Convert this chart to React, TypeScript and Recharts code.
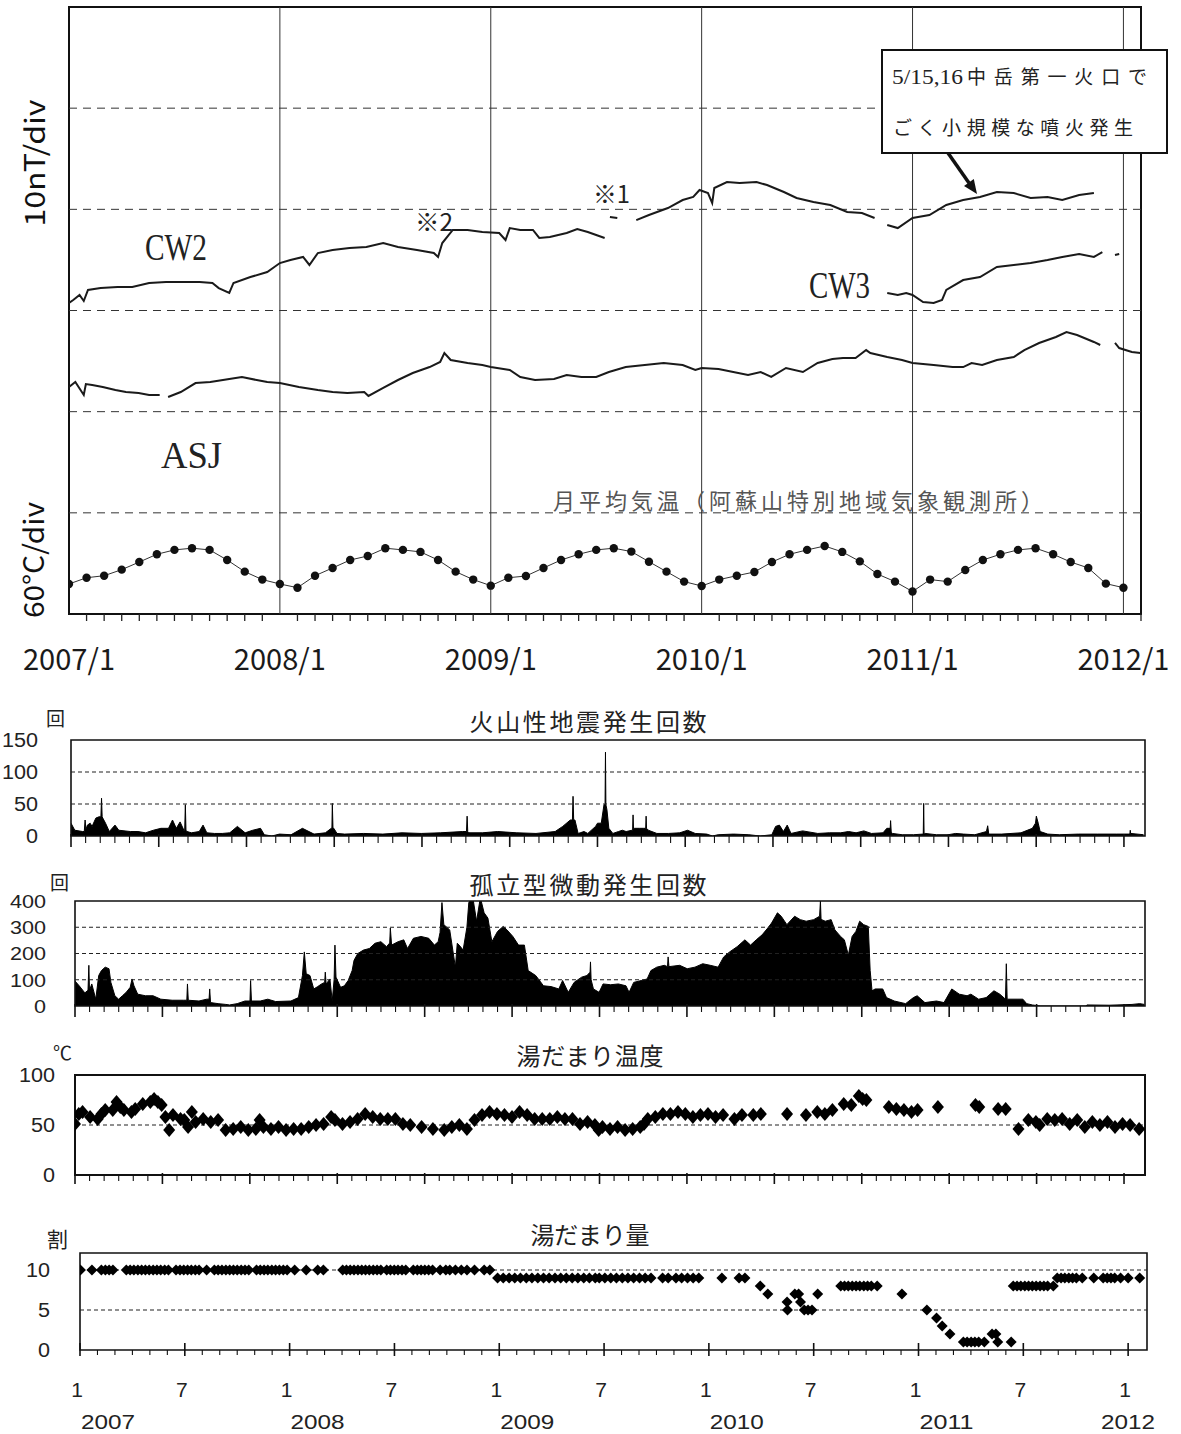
import React from 'react';
import { ComposedChart, Line, Area, Scatter, XAxis, YAxis, ReferenceLine, ReferenceArea } from 'recharts';

const FJ = '"Noto Sans CJK JP", "Noto Sans", "DejaVu Sans", sans-serif';
const FN = '"Liberation Sans", "DejaVu Sans", sans-serif';
const FS = '"Liberation Serif", "DejaVu Serif", serif';

// ---------------- top panel data ----------------
const TOP_YEAR_LABELS = ['2007/1', '2008/1', '2009/1', '2010/1', '2011/1', '2012/1'];
const YEAR_LINES = [2008, 2009, 2010, 2011, 2012];
const MAG_GRID = [10, 20, 30, 40, 50];

// [decimal year, nT (arbitrary offset)]; null = data gap
const CW2_RAW: [number, number | null][] = [
  [2007.0, 30.74], [2007.02, 31.04], [2007.05, 31.53], [2007.07, 30.94], [2007.09, 32.03], [2007.15, 32.22],
  [2007.23, 32.32], [2007.3, 32.32], [2007.38, 32.72], [2007.46, 32.82], [2007.54, 32.82], [2007.62, 32.82],
  [2007.68, 32.72], [2007.71, 32.22], [2007.76, 31.73], [2007.78, 32.72], [2007.86, 33.31], [2007.94, 33.8],
  [2008.0, 34.69], [2008.05, 34.99], [2008.11, 35.29], [2008.14, 34.5], [2008.18, 35.68], [2008.25, 35.98],
  [2008.33, 36.18], [2008.41, 36.28], [2008.49, 36.67], [2008.56, 36.28], [2008.65, 35.98], [2008.73, 35.68],
  [2008.75, 35.29], [2008.77, 36.67], [2008.8, 37.46], [2008.82, 37.96], [2008.89, 37.96], [2008.96, 37.76],
  [2009.04, 37.66], [2009.07, 36.97], [2009.09, 38.15], [2009.14, 37.96], [2009.2, 37.96], [2009.23, 37.17],
  [2009.28, 37.26], [2009.36, 37.66], [2009.41, 38.06], [2009.46, 37.76], [2009.5, 37.46], [2009.54, 37.17],
  [2009.55, null], [2009.565, 39.24], [2009.6, 39.14], [2009.61, null],
  [2009.69, 38.94], [2009.75, 39.44], [2009.84, 40.13], [2009.91, 40.92], [2009.96, 41.22], [2009.99, 41.91],
  [2010.03, 41.61], [2010.05, 40.62], [2010.06, 42.11], [2010.12, 42.7], [2010.18, 42.6], [2010.26, 42.7],
  [2010.31, 42.4], [2010.39, 41.71], [2010.45, 41.12], [2010.53, 40.72], [2010.61, 40.43], [2010.69, 39.74],
  [2010.76, 39.64], [2010.82, 39.14], [2010.85, null],
  [2010.88, 38.45], [2010.93, 38.15], [2011.0, 39.14], [2011.08, 39.44], [2011.16, 40.43], [2011.24, 40.92],
  [2011.32, 41.22], [2011.4, 41.71], [2011.48, 41.61], [2011.56, 41.12], [2011.64, 41.22], [2011.71, 40.92],
  [2011.79, 41.42], [2011.86, 41.61],
];

const CW3_RAW: [number, number | null][] = [
  [2010.88, 31.73], [2010.93, 31.53], [2010.97, 31.73], [2011.0, 31.53], [2011.05, 30.84], [2011.1, 30.74],
  [2011.14, 31.04], [2011.16, 32.03], [2011.24, 33.01], [2011.32, 33.31], [2011.4, 34.3], [2011.48, 34.5],
  [2011.56, 34.69], [2011.64, 34.99], [2011.71, 35.29], [2011.79, 35.58], [2011.86, 35.29], [2011.9, 35.78],
  [2011.93, null], [2011.96, 35.48], [2011.98, 35.58],
];

const ASJ_RAW: [number, number | null][] = [
  [2007.0, 22.44], [2007.03, 22.93], [2007.07, 21.65], [2007.08, 22.73], [2007.11, 22.63], [2007.16, 22.44],
  [2007.22, 22.14], [2007.27, 21.94], [2007.33, 21.84], [2007.38, 21.65], [2007.43, 21.65], [2007.45, null],
  [2007.47, 21.45], [2007.53, 21.94], [2007.6, 22.83], [2007.67, 22.93], [2007.76, 23.23], [2007.82, 23.43],
  [2007.89, 23.13], [2007.94, 22.93], [2008.0, 22.83], [2008.09, 22.44], [2008.18, 22.14], [2008.25, 21.94],
  [2008.32, 21.84], [2008.4, 21.94], [2008.42, 21.55], [2008.49, 22.34], [2008.56, 23.13], [2008.63, 23.82],
  [2008.71, 24.41], [2008.76, 24.91], [2008.78, 25.8], [2008.81, 25.11], [2008.89, 24.81], [2008.96, 24.61],
  [2009.0, 24.41], [2009.09, 24.12], [2009.14, 23.43], [2009.21, 23.13], [2009.3, 23.23], [2009.36, 23.62],
  [2009.43, 23.43], [2009.5, 23.43], [2009.56, 23.92], [2009.64, 24.41], [2009.73, 24.61], [2009.82, 24.81],
  [2009.91, 24.61], [2009.97, 24.12], [2010.0, 24.32], [2010.08, 24.22], [2010.15, 23.92], [2010.22, 23.62],
  [2010.28, 23.92], [2010.33, 23.43], [2010.4, 24.32], [2010.48, 23.92], [2010.55, 24.81], [2010.62, 25.2],
  [2010.67, 25.3], [2010.73, 25.3], [2010.78, 26.09], [2010.8, 25.8], [2010.88, 25.4], [2010.95, 25.11],
  [2011.0, 24.81], [2011.1, 24.61], [2011.19, 24.41], [2011.24, 24.41], [2011.28, 24.81], [2011.33, 24.61],
  [2011.4, 25.11], [2011.48, 25.4], [2011.53, 26.09], [2011.6, 26.79], [2011.68, 27.38], [2011.73, 27.87],
  [2011.78, 27.58], [2011.86, 26.89], [2011.89, 26.59], [2011.92, null], [2011.96, 26.79], [2011.98, 26.29],
  [2012.04, 25.9], [2012.08, 25.8],
];

// monthly mean air temperature (deg C), 2007/1 .. 2012/1
const AIR_TEMP = [
  -0.6, 3.1, 4.3, 7.9, 12.4, 17.0, 19.6, 20.6, 19.6, 13.6, 6.7, 2.0,
  -0.6, -2.8, 4.3, 8.9, 13.6, 16.0, 20.6, 19.6, 18.4, 13.6, 6.7, 2.0,
  -1.6, 3.1, 4.1, 8.9, 13.6, 17.0, 19.6, 20.6, 18.6, 12.6, 6.7, 0.8,
  -1.8, 2.0, 4.3, 6.5, 12.4, 17.0, 19.6, 21.9, 18.4, 12.8, 5.3, 0.8,
  -5.1, 2.0, 0.8, 7.7, 13.6, 17.0, 19.6, 20.6, 17.0, 12.4, 8.9, -0.4,
  -2.8,
];

// ---------------- volcanic earthquakes (count/day) ----------------
const EQ_RAW: [number, number][] = [
  [2007.0, 20], [2007.018, 9], [2007.055, 7], [2007.063, 7], [2007.067, 25], [2007.071, 10], [2007.078, 17],
  [2007.091, 20], [2007.1, 15], [2007.118, 28], [2007.133, 30], [2007.142, 30], [2007.145, 59], [2007.148, 30],
  [2007.151, 28], [2007.164, 20], [2007.182, 7], [2007.209, 17], [2007.227, 9], [2007.282, 7], [2007.318, 7],
  [2007.354, 5], [2007.391, 9], [2007.427, 12], [2007.463, 12], [2007.482, 25], [2007.5, 12], [2007.518, 22],
  [2007.536, 9], [2007.54, 9], [2007.543, 49], [2007.546, 9], [2007.551, 7], [2007.572, 5], [2007.609, 7],
  [2007.627, 17], [2007.645, 5], [2007.681, 4], [2007.718, 4], [2007.754, 5], [2007.79, 15], [2007.827, 5],
  [2007.863, 9], [2007.9, 12], [2007.918, 2], [2007.954, 0], [2007.99, 3], [2008.045, 2], [2008.099, 12],
  [2008.154, 3], [2008.208, 5], [2008.236, 12], [2008.239, 12], [2008.241, 51], [2008.244, 12], [2008.248, 12],
  [2008.263, 4], [2008.299, 3], [2008.39, 4], [2008.481, 3], [2008.572, 5], [2008.663, 4], [2008.754, 5],
  [2008.86, 7], [2008.878, 7], [2008.881, 31], [2008.884, 7], [2008.89, 5], [2008.953, 5], [2009.026, 7],
  [2009.117, 5], [2009.208, 4], [2009.299, 7], [2009.335, 15], [2009.371, 25], [2009.381, 25], [2009.384, 62],
  [2009.387, 25], [2009.393, 25], [2009.408, 4], [2009.418, 5], [2009.436, 7], [2009.454, 4], [2009.491, 15],
  [2009.5, 20], [2009.518, 20], [2009.531, 49], [2009.536, 49], [2009.538, 131], [2009.54, 49], [2009.545, 41],
  [2009.554, 12], [2009.573, 4], [2009.6, 7], [2009.618, 9], [2009.636, 7], [2009.664, 9], [2009.667, 9],
  [2009.669, 33], [2009.671, 12], [2009.676, 12], [2009.7, 12], [2009.718, 12], [2009.729, 12], [2009.731, 31],
  [2009.733, 12], [2009.742, 9], [2009.782, 4], [2009.837, 4], [2009.891, 5], [2009.928, 9], [2009.964, 4],
  [2010.019, 3], [2010.046, 0], [2010.073, 2], [2010.146, 3], [2010.219, 2], [2010.273, 0], [2010.328, 2],
  [2010.346, 15], [2010.364, 17], [2010.383, 7], [2010.401, 17], [2010.419, 4], [2010.474, 8], [2010.546, 4],
  [2010.601, 5], [2010.655, 5], [2010.692, 7], [2010.728, 5], [2010.765, 8], [2010.801, 4], [2010.856, 5],
  [2010.874, 12], [2010.89, 12], [2010.892, 24], [2010.895, 6], [2010.901, 4], [2010.947, 2], [2011.001, 2],
  [2011.045, 3], [2011.047, 3], [2011.049, 51], [2011.051, 3], [2011.056, 4], [2011.11, 2], [2011.165, 2],
  [2011.201, 4], [2011.238, 3], [2011.292, 2], [2011.347, 7], [2011.353, 16], [2011.358, 3], [2011.42, 3],
  [2011.511, 5], [2011.565, 12], [2011.58, 20], [2011.584, 31], [2011.593, 20], [2011.602, 7], [2011.638, 3],
  [2011.693, 2], [2011.784, 3], [2011.875, 3], [2011.966, 3], [2012.028, 3], [2012.03, 9], [2012.032, 4],
  [2012.093, 2],
];

// ---------------- isolated tremors (count/day) ----------------
const TREMOR_RAW: [number, number][] = [
  [2007.0, 95], [2007.02, 77], [2007.047, 50], [2007.062, 60], [2007.066, 155], [2007.069, 60], [2007.08, 84],
  [2007.099, 26], [2007.113, 116], [2007.126, 135], [2007.144, 148], [2007.162, 142], [2007.171, 90], [2007.19, 39],
  [2007.208, 26], [2007.226, 39], [2007.244, 52], [2007.263, 71], [2007.272, 103], [2007.281, 77], [2007.299, 45],
  [2007.336, 39], [2007.372, 39], [2007.409, 26], [2007.463, 22], [2007.518, 22], [2007.533, 22], [2007.536, 84],
  [2007.54, 22], [2007.591, 19], [2007.628, 26], [2007.639, 26], [2007.642, 65], [2007.646, 13], [2007.682, 9],
  [2007.719, 6], [2007.737, 4], [2007.773, 9], [2007.81, 19], [2007.834, 19], [2007.837, 97], [2007.841, 19],
  [2007.883, 19], [2007.919, 26], [2007.956, 17], [2008.029, 19], [2008.065, 32], [2008.084, 116], [2008.093, 206],
  [2008.102, 123], [2008.12, 116], [2008.138, 65], [2008.157, 74], [2008.175, 84], [2008.19, 90], [2008.193, 129],
  [2008.197, 84], [2008.215, 103], [2008.226, 19], [2008.235, 100], [2008.239, 232], [2008.244, 110], [2008.266, 71],
  [2008.284, 77], [2008.302, 97], [2008.321, 135], [2008.33, 174], [2008.348, 200], [2008.375, 213], [2008.403, 219],
  [2008.43, 239], [2008.458, 245], [2008.485, 226], [2008.5, 240], [2008.503, 297], [2008.509, 232], [2008.54, 245],
  [2008.567, 252], [2008.585, 219], [2008.613, 258], [2008.649, 265], [2008.686, 258], [2008.713, 232], [2008.731, 245],
  [2008.74, 280], [2008.749, 394], [2008.758, 310], [2008.786, 290], [2008.813, 148], [2008.822, 239], [2008.831, 232],
  [2008.85, 213], [2008.868, 300], [2008.877, 394], [2008.895, 419], [2008.914, 323], [2008.932, 413], [2008.95, 355],
  [2008.968, 335], [2008.987, 245], [2009.014, 284], [2009.041, 303], [2009.059, 290], [2009.087, 265], [2009.114, 232],
  [2009.142, 232], [2009.16, 135], [2009.196, 116], [2009.233, 77], [2009.269, 74], [2009.306, 65], [2009.324, 97],
  [2009.351, 52], [2009.379, 90], [2009.415, 110], [2009.44, 116], [2009.455, 129], [2009.457, 168], [2009.46, 100],
  [2009.471, 65], [2009.498, 52], [2009.517, 84], [2009.553, 81], [2009.59, 84], [2009.626, 77], [2009.641, 52],
  [2009.663, 90], [2009.699, 97], [2009.727, 103], [2009.745, 135], [2009.773, 148], [2009.809, 155], [2009.824, 150],
  [2009.827, 187], [2009.831, 150], [2009.882, 155], [2009.918, 142], [2009.955, 148], [2009.992, 161], [2010.028, 155],
  [2010.065, 148], [2010.092, 187], [2010.12, 206], [2010.156, 226], [2010.193, 252], [2010.22, 232], [2010.247, 252],
  [2010.275, 271], [2010.302, 297], [2010.32, 316], [2010.348, 355], [2010.366, 342], [2010.393, 310], [2010.43, 342],
  [2010.457, 329], [2010.485, 323], [2010.521, 329], [2010.549, 342], [2010.553, 400], [2010.556, 330], [2010.576, 323],
  [2010.604, 329], [2010.622, 290], [2010.649, 265], [2010.667, 252], [2010.686, 194], [2010.704, 265], [2010.722, 284],
  [2010.74, 323], [2010.759, 310], [2010.781, 303], [2010.79, 135], [2010.799, 58], [2010.814, 65], [2010.85, 65],
  [2010.868, 32], [2010.905, 19], [2010.959, 9], [2010.996, 32], [2011.014, 39], [2011.051, 13], [2011.106, 19],
  [2011.142, 13], [2011.179, 65], [2011.215, 45], [2011.252, 39], [2011.27, 45], [2011.307, 26], [2011.343, 32],
  [2011.38, 58], [2011.408, 45], [2011.435, 26], [2011.439, 161], [2011.443, 26], [2011.49, 26], [2011.518, 26],
  [2011.536, 9], [2011.563, 4], [2011.6, 0], [2011.819, 0], [2011.823, 4], [2011.929, 3], [2012.038, 6],
  [2012.075, 9], [2012.097, 6],
];

// ---------------- crater lake temperature (deg C) ----------------
const LAKE_TEMP_RAW: [number, number][] = [
  [2007.0, 51], [2007.018, 61], [2007.036, 63], [2007.072, 58], [2007.108, 56], [2007.126, 61], [2007.144, 65],
  [2007.18, 65], [2007.198, 73], [2007.216, 68], [2007.233, 65], [2007.269, 63], [2007.287, 66], [2007.323, 71],
  [2007.359, 73], [2007.377, 76], [2007.395, 73], [2007.413, 70], [2007.431, 58], [2007.449, 45], [2007.467, 60],
  [2007.503, 56], [2007.521, 55], [2007.539, 48], [2007.557, 63], [2007.575, 53], [2007.611, 56], [2007.647, 53],
  [2007.682, 55], [2007.718, 45], [2007.754, 46], [2007.79, 48], [2007.826, 45], [2007.862, 46], [2007.88, 55],
  [2007.898, 48], [2007.934, 46], [2007.97, 48], [2008.006, 45], [2008.042, 46], [2008.078, 46], [2008.114, 48],
  [2008.149, 50], [2008.185, 51], [2008.221, 58], [2008.239, 55], [2008.275, 51], [2008.311, 53], [2008.347, 56],
  [2008.383, 61], [2008.419, 58], [2008.455, 56], [2008.491, 56], [2008.527, 56], [2008.563, 51], [2008.598, 50],
  [2008.652, 48], [2008.706, 46], [2008.76, 45], [2008.796, 48], [2008.832, 50], [2008.868, 46], [2008.904, 55],
  [2008.94, 60], [2008.976, 63], [2009.011, 61], [2009.047, 60], [2009.083, 58], [2009.119, 63], [2009.155, 60],
  [2009.191, 56], [2009.227, 56], [2009.263, 56], [2009.299, 58], [2009.335, 56], [2009.371, 56], [2009.407, 51],
  [2009.443, 53], [2009.478, 50], [2009.496, 45], [2009.514, 48], [2009.55, 46], [2009.586, 48], [2009.622, 45],
  [2009.658, 46], [2009.694, 48], [2009.712, 51], [2009.73, 56], [2009.766, 58], [2009.802, 61], [2009.838, 61],
  [2009.874, 63], [2009.909, 61], [2009.945, 58], [2009.981, 60], [2010.017, 61], [2010.053, 58], [2010.089, 60],
  [2010.143, 56], [2010.179, 60], [2010.233, 60], [2010.269, 61], [2010.394, 61], [2010.484, 60], [2010.538, 63],
  [2010.574, 61], [2010.61, 65], [2010.664, 71], [2010.7, 70], [2010.736, 79], [2010.754, 76], [2010.772, 75],
  [2010.879, 68], [2010.915, 66], [2010.951, 65], [2010.987, 63], [2011.016, 65], [2011.113, 68], [2011.292, 70],
  [2011.31, 68], [2011.4, 66], [2011.436, 66], [2011.497, 46], [2011.544, 55], [2011.58, 53], [2011.598, 50],
  [2011.634, 56], [2011.67, 55], [2011.705, 56], [2011.741, 51], [2011.777, 55], [2011.813, 48], [2011.849, 53],
  [2011.885, 50], [2011.921, 53], [2011.957, 48], [2011.993, 51], [2012.029, 50], [2012.072, 46],
];

// ---------------- crater lake water amount (tenths) ----------------
const WATER_RAW: [number, number][] = [
  [2007.002, 10], [2007.057, 10], [2007.102, 10], [2007.121, 10], [2007.139, 10], [2007.157, 10],
  [2007.221, 10], [2007.239, 10], [2007.257, 10], [2007.276, 10], [2007.294, 10], [2007.312, 10], [2007.33, 10],
  [2007.349, 10], [2007.367, 10], [2007.385, 10], [2007.404, 10], [2007.422, 10], [2007.458, 10], [2007.477, 10],
  [2007.495, 10], [2007.513, 10], [2007.531, 10], [2007.55, 10], [2007.568, 10], [2007.604, 10], [2007.641, 10],
  [2007.659, 10], [2007.677, 10], [2007.696, 10], [2007.714, 10], [2007.732, 10], [2007.75, 10], [2007.769, 10],
  [2007.787, 10], [2007.805, 10], [2007.842, 10], [2007.86, 10], [2007.878, 10], [2007.896, 10], [2007.915, 10],
  [2007.933, 10], [2007.951, 10], [2007.97, 10], [2007.988, 10], [2008.024, 10], [2008.079, 10], [2008.134, 10],
  [2008.161, 10], [2008.253, 10], [2008.271, 10], [2008.289, 10], [2008.307, 10], [2008.326, 10], [2008.344, 10],
  [2008.362, 10], [2008.38, 10], [2008.399, 10], [2008.417, 10], [2008.435, 10], [2008.463, 10], [2008.481, 10],
  [2008.499, 10], [2008.517, 10], [2008.536, 10], [2008.554, 10], [2008.59, 10], [2008.609, 10], [2008.627, 10],
  [2008.645, 10], [2008.663, 10], [2008.682, 10], [2008.718, 10], [2008.745, 10], [2008.764, 10], [2008.791, 10],
  [2008.819, 10], [2008.846, 10], [2008.882, 10], [2008.928, 10], [2008.955, 10],
  [2008.992, 9], [2009.019, 9], [2009.047, 9], [2009.074, 9], [2009.101, 9], [2009.129, 9], [2009.156, 9],
  [2009.184, 9], [2009.211, 9], [2009.238, 9], [2009.266, 9], [2009.293, 9], [2009.32, 9], [2009.348, 9],
  [2009.375, 9], [2009.403, 9], [2009.43, 9], [2009.458, 9], [2009.477, 9], [2009.504, 9], [2009.532, 9],
  [2009.559, 9], [2009.587, 9], [2009.614, 9], [2009.641, 9], [2009.669, 9], [2009.696, 9], [2009.724, 9],
  [2009.779, 9], [2009.806, 9], [2009.843, 9], [2009.87, 9], [2009.898, 9], [2009.925, 9], [2009.952, 9],
  [2010.062, 9], [2010.144, 9], [2010.172, 9], [2010.245, 8], [2010.281, 7], [2010.373, 6], [2010.375, 5],
  [2010.41, 7], [2010.428, 7], [2010.437, 6], [2010.455, 5], [2010.473, 5], [2010.492, 5], [2010.519, 7],
  [2010.629, 8], [2010.647, 8], [2010.665, 8], [2010.684, 8], [2010.702, 8], [2010.72, 8], [2010.739, 8],
  [2010.757, 8], [2010.775, 8], [2010.803, 8], [2010.921, 7], [2011.04, 5], [2011.086, 4], [2011.113, 3],
  [2011.15, 2], [2011.214, 1], [2011.232, 1], [2011.251, 1], [2011.269, 1], [2011.287, 1], [2011.314, 1],
  [2011.351, 2], [2011.369, 2], [2011.378, 1], [2011.442, 1], [2011.452, 8], [2011.47, 8], [2011.488, 8],
  [2011.507, 8], [2011.525, 8], [2011.543, 8], [2011.561, 8], [2011.58, 8], [2011.598, 8], [2011.616, 8],
  [2011.643, 8], [2011.662, 9], [2011.68, 9], [2011.698, 9], [2011.717, 9], [2011.735, 9], [2011.753, 9],
  [2011.781, 9], [2011.836, 9], [2011.881, 9], [2011.9, 9], [2011.918, 9], [2011.936, 9], [2011.964, 9],
  [2012.0, 9], [2012.055, 9],
];

const P2_YTICKS = [0, 50, 100, 150];
const P3_YTICKS = [0, 100, 200, 300, 400];
const P4_YTICKS = [0, 50, 100];
const P5_YTICKS = [0, 5, 10];
const P5_MONTH_LABELS = ['1', '7'];
const P5_YEAR_LABELS = ['2007', '2008', '2009', '2010', '2011', '2012'];

const toObj = (raw: [number, number | null][]) => raw.map(([t, v]) => ({ t, v }));
const cw2 = toObj(CW2_RAW);
const cw3 = toObj(CW3_RAW);
const asj = toObj(ASJ_RAW);
const airTemp = AIR_TEMP.map((v, i) => ({ t: 2007 + i / 12, v }));
const eq = toObj(EQ_RAW);
const tremor = toObj(TREMOR_RAW);
const lakeTemp = toObj(LAKE_TEMP_RAW);
const water = toObj(WATER_RAW);

// axis tick positions (styling only)
const MONTH_TICKS = Array.from({ length: 62 }, (_, k) => 2007 + k / 12);
const LOWER_TICKS = Array.from({ length: 73 }, (_, k) => 2007 + (5 * k) / 72);
const P5_TICKS = Array.from({ length: 61 }, (_, k) => 2007 + k / 12);

// ---------------- tick renderers ----------------
const TopTick = (props: any) => {
  const { x, y, payload } = props;
  const k = Math.round((payload.value - 2007) * 12);
  if (k % 12 === 0) {
    return (
      <text x={x} y={y + 56} textAnchor="middle" fontFamily={FJ} fontSize={29} fill="#1a1a1a"
        textLength={92} lengthAdjust="spacingAndGlyphs">{TOP_YEAR_LABELS[k / 12]}</text>
    );
  }
  return <line x1={x} y1={y} x2={x} y2={y + 7} stroke="#222" strokeWidth={1.3} />;
};

const makeLowerTick = (majorLen: number, minorLen: number) => (props: any) => {
  const { x, y, payload } = props;
  const k = Math.round(((payload.value - 2007) * 72) / 5);
  const major = k % 6 === 0;
  return (
    <line x1={x} y1={major ? y - 2 : y} x2={x} y2={y + (major ? majorLen : minorLen)}
      stroke="#111" strokeWidth={major ? 1.6 : 1.1} />
  );
};

const P5Tick = (props: any) => {
  const { x, y, payload } = props;
  const k = Math.round((payload.value - 2007) * 12);
  const major = k % 6 === 0;
  const isYear = k % 12 === 0;
  return (
    <g>
      <line x1={x} y1={major ? y - 7 : y} x2={x} y2={y + (major ? 6 : 5)} stroke="#111" strokeWidth={major ? 1.6 : 1.1} />
      {major && (
        <text x={x - 3} y={y + 47} textAnchor="middle" fontFamily={FN} fontSize={21} fill="#222">
          {P5_MONTH_LABELS[isYear ? 0 : 1]}
        </text>
      )}
      {isYear && (
        <text x={x + (k === 60 ? 0 : 28)} y={y + 79} textAnchor="middle" fontFamily={FN} fontSize={21} fill="#222"
          textLength={54} lengthAdjust="spacingAndGlyphs">
          {P5_YEAR_LABELS[k / 12]}
        </text>
      )}
    </g>
  );
};

const makeYTick = (rightX: number, fontSize: number) => (props: any) => {
  const { y, payload } = props;
  const s = String(payload.value);
  return (
    <text x={rightX} y={y} dy="0.36em" textAnchor="end" fontFamily={FN} fontSize={fontSize} fill="#222"
      textLength={s.length * 12} lengthAdjust="spacingAndGlyphs">
      {s}
    </text>
  );
};

const Diamond = (props: any) => {
  const { cx, cy } = props;
  if (cx == null || cy == null) return <g />;
  return <polygon points={`${cx},${cy - 7} ${cx + 6},${cy} ${cx},${cy + 7} ${cx - 6},${cy}`} fill="#000" />;
};

const SmallDiamond = (props: any) => {
  const { cx, cy } = props;
  if (cx == null || cy == null) return <g />;
  return <polygon points={`${cx},${cy - 5.5} ${cx + 5.5},${cy} ${cx},${cy + 5.5} ${cx - 5.5},${cy}`} fill="#000" />;
};

const abs = (top: number): React.CSSProperties => ({ position: 'absolute', left: 0, top });

// ---------------- panels ----------------
const TopPanel = () => {
  const X_MAX = 2012 + 1 / 12;
  return (
    <div style={abs(0)}>
      <ComposedChart width={1181} height={700} margin={{ top: 7, right: 40, bottom: 0, left: 69 }}>
        <XAxis type="number" dataKey="t" domain={[2007, X_MAX]} allowDataOverflow ticks={MONTH_TICKS}
          interval={0} tick={TopTick} tickLine={false} axisLine={false} tickSize={0} tickMargin={0} height={86} />
        <YAxis yAxisId="mag" type="number" domain={[0, 60]} allowDataOverflow hide />
        <YAxis yAxisId="temp" type="number" domain={[-18.4, 341.4]} allowDataOverflow hide />
        {MAG_GRID.map((g) => (
          <ReferenceLine key={'g' + g} yAxisId="mag" y={g} stroke="#333" strokeWidth={1} strokeDasharray="8 6" />
        ))}
        {YEAR_LINES.map((yr) => (
          <ReferenceLine key={'y' + yr} yAxisId="mag" x={yr} stroke="#333" strokeWidth={1} />
        ))}
        <ReferenceArea yAxisId="mag" x1={2007} x2={X_MAX} y1={0} y2={60} fill="none" stroke="#111" strokeWidth={2} />
        <Line yAxisId="mag" data={cw2} dataKey="v" stroke="#1a1a1a" strokeWidth={2} dot={false} connectNulls={false} isAnimationActive={false} />
        <Line yAxisId="mag" data={cw3} dataKey="v" stroke="#1a1a1a" strokeWidth={2} dot={false} connectNulls={false} isAnimationActive={false} />
        <Line yAxisId="mag" data={asj} dataKey="v" stroke="#1a1a1a" strokeWidth={2} dot={false} connectNulls={false} isAnimationActive={false} />
        <Line yAxisId="temp" data={airTemp} dataKey="v" stroke="#333" strokeWidth={1}
          dot={{ r: 4.2, fill: '#111', stroke: 'none' }} isAnimationActive={false} />
      </ComposedChart>
    </div>
  );
};

const EqPanel = () => (
  <div style={abs(720)}>
    <ComposedChart width={1181} height={130} margin={{ top: 20, right: 36, bottom: 0, left: 0 }}>
      <XAxis type="number" dataKey="t" domain={[2007, 2012.1]} allowDataOverflow ticks={LOWER_TICKS} interval={0}
        tick={makeLowerTick(11, 7)} tickLine={false} axisLine={false} tickSize={0} tickMargin={0} height={14} />
      <YAxis type="number" domain={[0, 150]} allowDataOverflow ticks={P2_YTICKS} interval={0} width={71}
        tick={makeYTick(38, 20)} tickLine={false} axisLine={false} tickSize={0} tickMargin={0} />
      <ReferenceLine y={50} stroke="#222" strokeDasharray="4 3" strokeWidth={1.2} />
      <ReferenceLine y={100} stroke="#222" strokeDasharray="4 3" strokeWidth={1.2} />
      <Area data={eq} dataKey="v" type="linear" stroke="#000" strokeWidth={1} fill="#000" fillOpacity={1} isAnimationActive={false} />
      <ReferenceArea x1={2007} x2={2012.1} y1={0} y2={150} fill="none" stroke="#111" strokeWidth={1.6} />
    </ComposedChart>
  </div>
);

const TremorPanel = () => (
  <div style={abs(880)}>
    <ComposedChart width={1181} height={140} margin={{ top: 21, right: 36, bottom: 0, left: 0 }}>
      <XAxis type="number" dataKey="t" domain={[2007, 2012.1]} allowDataOverflow ticks={LOWER_TICKS} interval={0}
        tick={makeLowerTick(11, 6)} tickLine={false} axisLine={false} tickSize={0} tickMargin={0} height={14} />
      <YAxis type="number" domain={[0, 400]} allowDataOverflow ticks={P3_YTICKS} interval={0} width={75}
        tick={makeYTick(46, 19)} tickLine={false} axisLine={false} tickSize={0} tickMargin={0} />
      {[100, 200, 300].map((g) => (
        <ReferenceLine key={g} y={g} stroke="#222" strokeDasharray="4 3" strokeWidth={1.2} />
      ))}
      <Area data={tremor} dataKey="v" type="linear" stroke="#000" strokeWidth={1} fill="#000" fillOpacity={1} isAnimationActive={false} />
      <ReferenceArea x1={2007} x2={2012.1} y1={0} y2={400} fill="none" stroke="#111" strokeWidth={1.6} />
    </ComposedChart>
  </div>
);

const LakeTempPanel = () => (
  <div style={abs(1060)}>
    <ComposedChart width={1181} height={130} margin={{ top: 15, right: 36, bottom: 0, left: 0 }}>
      <XAxis type="number" dataKey="t" domain={[2007, 2012.1]} allowDataOverflow ticks={LOWER_TICKS} interval={0}
        tick={makeLowerTick(9, 6)} tickLine={false} axisLine={false} tickSize={0} tickMargin={0} height={15} />
      <YAxis type="number" dataKey="v" domain={[0, 100]} allowDataOverflow ticks={P4_YTICKS} interval={0} width={75}
        tick={makeYTick(55, 20)} tickLine={false} axisLine={false} tickSize={0} tickMargin={0} />
      <ReferenceLine y={50} stroke="#222" strokeDasharray="4 3" strokeWidth={1.2} />
      <ReferenceArea x1={2007} x2={2012.1} y1={0} y2={100} fill="none" stroke="#111" strokeWidth={2} />
      <Scatter data={lakeTemp} dataKey="v" shape={Diamond} isAnimationActive={false} />
    </ComposedChart>
  </div>
);

const WaterPanel = () => (
  <div style={abs(1240)}>
    <ComposedChart width={1181} height={194} margin={{ top: 13, right: 34, bottom: 0, left: 0 }}>
      <XAxis type="number" dataKey="t" domain={[2007, 2012.09]} allowDataOverflow ticks={P5_TICKS} interval={0}
        tick={P5Tick} tickLine={false} axisLine={false} tickSize={0} tickMargin={0} height={84} />
      <YAxis type="number" dataKey="v" domain={[0, 12.125]} allowDataOverflow ticks={P5_YTICKS} interval={0} width={80}
        tick={makeYTick(50, 20)} tickLine={false} axisLine={false} tickSize={0} tickMargin={0} />
      <ReferenceLine y={5} stroke="#222" strokeDasharray="4 3" strokeWidth={1.2} />
      <ReferenceLine y={10} stroke="#222" strokeDasharray="4 3" strokeWidth={1.2} />
      <ReferenceArea x1={2007} x2={2012.09} y1={0} y2={12.125} fill="none" stroke="#111" strokeWidth={1.6} />
      <Scatter data={water} dataKey="v" shape={SmallDiamond} isAnimationActive={false} />
    </ComposedChart>
  </div>
);

// ---------------- text overlay ----------------
const Overlay = () => (
  <svg width={1181} height={1434} style={{ position: 'absolute', left: 0, top: 0, pointerEvents: 'none' }}>
    <text transform="translate(45,163) rotate(-90)" textAnchor="middle" fontFamily={FJ} fontSize={28} fill="#111"
      textLength={127} lengthAdjust="spacingAndGlyphs">10nT/div</text>
    <text transform="translate(44,560) rotate(-90)" textAnchor="middle" fontFamily={FJ} fontSize={28} fill="#111"
      textLength={116} lengthAdjust="spacingAndGlyphs">60°C/div</text>

    <text x={145} y={260} fontFamily={FS} fontSize={38} fill="#222" textLength={62} lengthAdjust="spacingAndGlyphs">CW2</text>
    <text x={809} y={298} fontFamily={FS} fontSize={38} fill="#222" textLength={61} lengthAdjust="spacingAndGlyphs">CW3</text>
    <text x={161} y={468} fontFamily={FS} fontSize={38} fill="#222" textLength={61} lengthAdjust="spacingAndGlyphs">ASJ</text>
    <text x={415} y={231} fontFamily={FJ} fontSize={24} fill="#222" textLength={38} lengthAdjust="spacingAndGlyphs">※2</text>
    <text x={593} y={203} fontFamily={FJ} fontSize={24} fill="#222" textLength={37} lengthAdjust="spacingAndGlyphs">※1</text>
    <text x={553} y={509} fontFamily={FJ} fontSize={22} fill="#555" textLength={490} lengthAdjust="spacing">月平均気温（阿蘇山特別地域気象観測所）</text>

    <rect x={882} y={50} width={285} height={103} fill="#fff" stroke="#111" strokeWidth={2} />
    <text x={892} y={84} fontFamily={FS} fontSize={21} fill="#222" textLength={71} lengthAdjust="spacingAndGlyphs">5/15,16</text>
    <text x={967} y={84} fontFamily={FJ} fontSize={19} fill="#222" textLength={180} lengthAdjust="spacing">中岳第一火口で</text>
    <text x={893} y={135} fontFamily={FJ} fontSize={19} fill="#222" textLength={240} lengthAdjust="spacing">ごく小規模な噴火発生</text>
    <line x1={948} y1={153} x2={969} y2={183} stroke="#111" strokeWidth={3.5} />
    <polygon points="977,194 973.8,179.1 964,186.1" fill="#111" />

    <text x={46} y={726} fontFamily={FJ} fontSize={19} fill="#222">回</text>
    <text x={588} y={731} textAnchor="middle" fontFamily={FJ} fontSize={24} fill="#222" textLength={237} lengthAdjust="spacing">火山性地震発生回数</text>
    <text x={50} y={890} fontFamily={FJ} fontSize={19} fill="#222">回</text>
    <text x={588} y={894} textAnchor="middle" fontFamily={FJ} fontSize={24} fill="#222" textLength={237} lengthAdjust="spacing">孤立型微動発生回数</text>
    <text x={53} y={1060} fontFamily={FJ} fontSize={19} fill="#222">℃</text>
    <text x={590} y={1065} textAnchor="middle" fontFamily={FJ} fontSize={24} fill="#222" textLength={147} lengthAdjust="spacing">湯だまり温度</text>
    <text x={47} y={1247} fontFamily={FJ} fontSize={21} fill="#222">割</text>
    <text x={590} y={1244} textAnchor="middle" fontFamily={FJ} fontSize={24} fill="#222" textLength={119} lengthAdjust="spacing">湯だまり量</text>
  </svg>
);

export default function App() {
  return (
    <div style={{ position: 'absolute', left: 0, top: 0, width: 1181, height: 1434, background: '#fff', overflow: 'hidden' }}>
      <TopPanel />
      <EqPanel />
      <TremorPanel />
      <LakeTempPanel />
      <WaterPanel />
      <Overlay />
    </div>
  );
}
